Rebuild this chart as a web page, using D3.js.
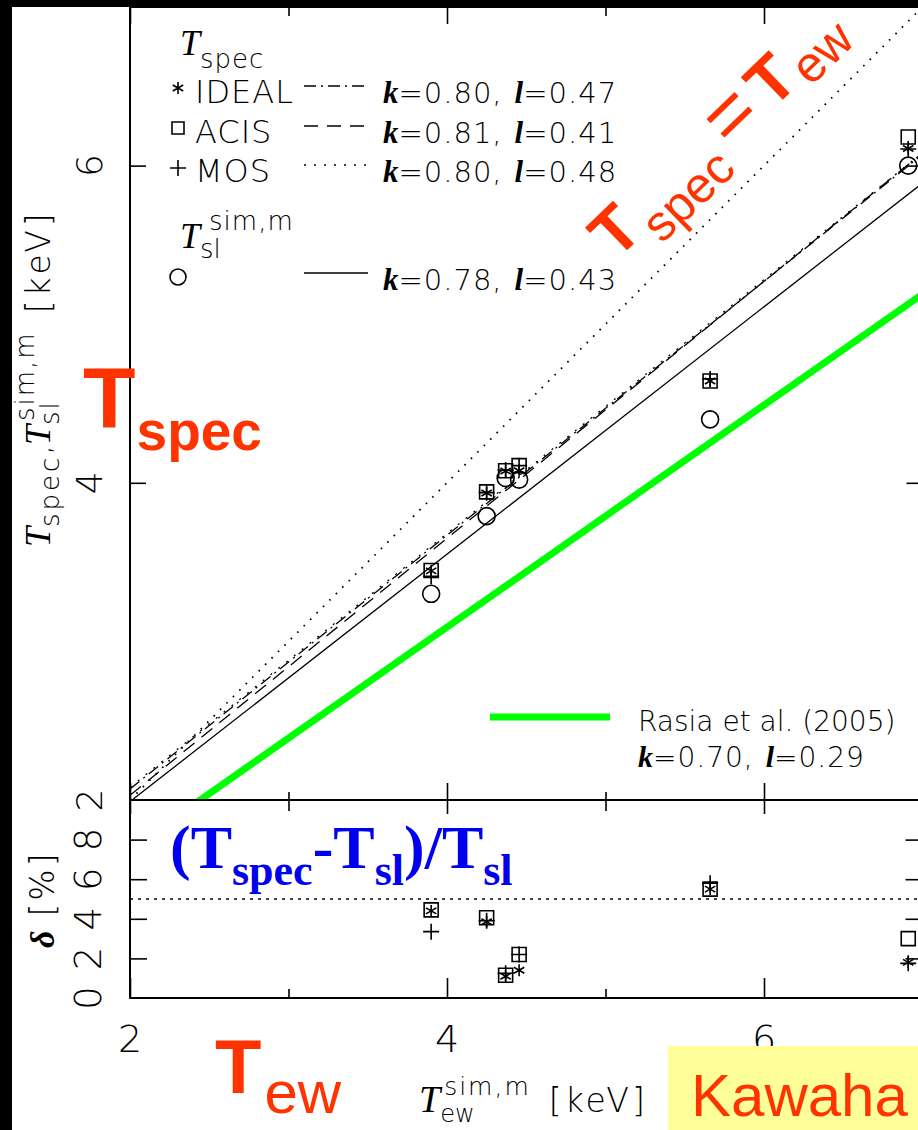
<!DOCTYPE html>
<html><head><meta charset="utf-8">
<script src="https://cdn.jsdelivr.net/npm/d3@7"></script>
<style>html,body{margin:0;padding:0;background:#000;overflow:hidden}svg{display:block}</style>
</head><body><svg id="c" width="918" height="1130"></svg>
<script>
// ---------- data ----------
const tewMajorTicks = [2, 4, 6];
const tewMinorTicks = [3, 5];
const tewTickLabels = [2, 4, 6];
const tTicks = [4, 6];
const tTickLabels = [2, 4, 6];
const deltaTicks = [2, 4, 6, 8];
const deltaTickLabels = [0, 2, 4, 6, 8];

const clusterTew = [3.90, 4.25, 4.37, 4.455, 5.66, 6.91];
const tslSim     = [3.30, 3.79, 4.03, 4.02, 4.40, 6.00];
const tspecIdeal = [3.445, 3.936, 4.074, 4.076, 4.642, 6.108];
const tspecAcis  = [3.447, 3.943, 4.076, 4.108, 4.642, 6.180];
const tspecMos   = [3.410, 3.938, 4.080, 4.108, 4.655, 6.105];
const deltaIdeal = [4.40, 3.85, 1.10, 1.40, 5.50, 1.80];
const deltaAcis  = [4.45, 4.05, 1.15, 2.20, 5.50, 3.00];
const deltaMos   = [3.35, 3.90, 1.25, 2.20, 5.80, 1.75];

const fitNames = ["IDEAL", "ACIS", "MOS", "sl", "Rasia"];
const fitK = [0.80, 0.81, 0.80, 0.78, 0.70];
const fitL = [0.47, 0.41, 0.48, 0.43, 0.29];
const identityLine = [2, 7];
const deltaRef = 5;

// ---------- setup ----------
const svg = d3.select("#c");
const W = 918, H = 1130;
svg.append("rect").attr("width", W).attr("height", H).attr("fill", "#000");
svg.append("rect").attr("x", 12).attr("y", 7).attr("width", W - 12).attr("height", H - 7).attr("fill", "#fff");

const x = d3.scaleLinear().domain([2, 7]).range([130, 922.5]);
const yT = d3.scaleLinear().domain([2, 7]).range([800, 7]);
const yD = d3.scaleLinear().domain([0, 10]).range([998, 800]);

const SANS = "DejaVu Sans";
const SERIF = "Liberation Serif";
const ARIAL = "Liberation Sans";
const RED = "#ff3300";

svg.append("defs").append("clipPath").attr("id", "up")
  .append("rect").attr("x", x(2)).attr("y", yT(7)).attr("width", x(7) - x(2)).attr("height", yT(2) - yT(7));

// ---------- fit lines ----------
const lineGen = d3.line().x(d => x(d[0])).y(d => yT(d[1]));
const lines = svg.append("g").attr("clip-path", "url(#up)");
lines.append("path").attr("d", lineGen(identityLine.map(v => [v, v])))
  .attr("fill", "none").attr("stroke", "#000").attr("stroke-width", 1.8)
  .attr("stroke-dasharray", "1.6,7.5");
const fitDash = ["12,5,2,5", "14,9", "2,8", null];
fitK.forEach((k, i) => {
  const pts = identityLine.map(v => [v, k * v + fitL[i]]);
  const p = lines.append("path").attr("d", lineGen(pts)).attr("fill", "none");
  if (i === 4) {
    p.attr("stroke", "#00ff00").attr("stroke-width", 7);
  } else {
    p.attr("stroke", "#000").attr("stroke-width", 1.3);
    if (fitDash[i]) p.attr("stroke-dasharray", fitDash[i]);
  }
});

// ---------- delta ref line ----------
svg.append("line").attr("x1", x(2)).attr("x2", x(7)).attr("y1", yD(deltaRef)).attr("y2", yD(deltaRef))
  .attr("stroke", "#000").attr("stroke-width", 1.6).attr("stroke-dasharray", "3,5");

// ---------- frames & ticks ----------
function frame(y0, y1) {
  svg.append("rect").attr("x", x(2)).attr("y", y0).attr("width", x(7) - x(2)).attr("height", y1 - y0)
    .attr("fill", "none").attr("stroke", "#000").attr("stroke-width", 2);
}
frame(yT(7), yT(2));
frame(yD(10), yD(0));

function ticks(axis, tx, ty) {
  const g = svg.append("g").attr("transform", `translate(${tx},${ty})`).call(axis);
  g.select(".domain").remove();
  g.selectAll("text").remove();
  g.selectAll("line").attr("stroke", "#000").attr("stroke-width", 1.6);
}
ticks(d3.axisBottom(x).tickValues(tewMajorTicks).tickSize(17), 0, yT(7));
ticks(d3.axisBottom(x).tickValues(tewMinorTicks).tickSize(9), 0, yT(7));
ticks(d3.axisTop(x).tickValues(tewMajorTicks).tickSize(17), 0, yT(2));
ticks(d3.axisTop(x).tickValues(tewMinorTicks).tickSize(8), 0, yT(2));
ticks(d3.axisRight(yT).tickValues(tTicks).tickSize(16), x(2), 0);
ticks(d3.axisLeft(yT).tickValues(tTicks).tickSize(16), x(7), 0);
ticks(d3.axisBottom(x).tickValues(tewMajorTicks).tickSize(14), 0, yD(10));
ticks(d3.axisBottom(x).tickValues(tewMinorTicks).tickSize(11), 0, yD(10));
ticks(d3.axisTop(x).tickValues(tewMajorTicks).tickSize(20), 0, yD(0));
ticks(d3.axisTop(x).tickValues(tewMinorTicks).tickSize(9), 0, yD(0));
ticks(d3.axisRight(yD).tickValues(deltaTicks).tickSize(17), x(2), 0);
ticks(d3.axisLeft(yD).tickValues(deltaTicks).tickSize(17), x(7), 0);

// tick labels
svg.append("g").selectAll("text").data(tewTickLabels).join("text")
  .attr("x", d => x(d)).attr("y", 1052).attr("text-anchor", "middle")
  .attr("font-family", SANS).attr("font-size", 38).attr("font-weight", 200).attr("fill", "#000").text(d => d);
svg.append("g").selectAll("text").data(tTickLabels).join("text")
  .attr("transform", d => `translate(102,${yT(d)}) rotate(-90)`).attr("text-anchor", "middle")
  .attr("font-family", SANS).attr("font-size", 36).attr("font-weight", 200).attr("fill", "#000").text(d => d);
svg.append("g").selectAll("text").data(deltaTickLabels).join("text")
  .attr("transform", d => `translate(101,${yD(d)}) rotate(-90)`).attr("text-anchor", "middle")
  .attr("font-family", SANS).attr("font-size", 37).attr("font-weight", 200).attr("fill", "#000").text(d => d);

// ---------- rich text helper ----------
function rich(g, x0, y0, pieces, base) {
  let cx = x0, stackMax = 0;
  pieces.forEach(p => {
    const s = Object.assign({}, base, p);
    const el = g.append("text")
      .attr("x", cx + (s.dx || 0)).attr("y", y0 + (s.dy || 0))
      .attr("font-family", s.family).attr("font-size", s.size)
      .attr("font-style", s.style || "normal").attr("font-weight", s.weight || "normal")
      .attr("fill", s.fill || "#000")
      .style("letter-spacing", (s.ls || 0) + "px")
      .style("white-space", "pre")
      .text(s.t);
    const w = el.node().getComputedTextLength() + (s.dx || 0);
    if (p.stack) { stackMax = Math.max(stackMax, w); }
    else { cx += Math.max(w, stackMax); stackMax = 0; }
  });
  return cx;
}

// axis titles
const ylab = svg.append("g").attr("transform", "translate(50,547) rotate(-90)");
rich(ylab, 0, 0, [
  { t: "T", family: SERIF, style: "italic", size: 36 },
  { t: "spec", size: 26, dy: 9, ls: 3 },
  { t: ",", size: 30 },
  { t: "T", family: SERIF, style: "italic", size: 36 },
  { t: "sim,m", size: 26, dy: -16, dx: 4, ls: 2, stack: true },
  { t: "sl", size: 26, dy: 9, ls: 2 },
  { t: "[keV]", size: 33, dx: 18, ls: 4 }
], { family: SANS, weight: 200 });

const dlab = svg.append("g").attr("transform", "translate(54,948) rotate(-90)");
rich(dlab, 0, 0, [
  { t: "δ", family: SERIF, style: "italic", weight: "bold", size: 34 },
  { t: "[%]", size: 33, dx: 14, ls: 3 }
], { family: SANS, weight: 200 });

rich(svg.append("g"), 419, 1112, [
  { t: "T", family: SERIF, style: "italic", size: 38 },
  { t: "sim,m", size: 25, dy: -17, dx: 4, ls: 2, stack: true },
  { t: "ew", size: 24, dy: 10 },
  { t: "[keV]", size: 33, dx: 18, ls: 3 }
], { family: SANS, weight: 200 });

// ---------- marker shapes ----------
function sq(cx, cy, s) { return `M${cx - s / 2},${cy - s / 2}h${s}v${s}h${-s}Z`; }
function plus(cx, cy, s) { return `M${cx - s / 2},${cy}H${cx + s / 2}M${cx},${cy - s / 2}V${cy + s / 2}`; }
function star(cx, cy, s) {
  const r = s / 2; let d = "";
  [90, 30, -30].forEach(a => {
    const dx = r * Math.cos(a * Math.PI / 180), dy = r * Math.sin(a * Math.PI / 180);
    d += `M${cx - dx},${cy - dy}L${cx + dx},${cy + dy}`;
  });
  return d;
}
function mark(g, d) { g.append("path").attr("d", d).attr("fill", "none").attr("stroke", "#000").attr("stroke-width", 1.6); }

const mk = svg.append("g");
clusterTew.forEach((t, i) => {
  const px = x(t);
  mk.append("circle").attr("cx", px).attr("cy", yT(tslSim[i])).attr("r", 8.5)
    .attr("fill", "none").attr("stroke", "#000").attr("stroke-width", 1.6);
  mark(mk, sq(px, yT(tspecAcis[i]), 14));
  mark(mk, plus(px, yT(tspecMos[i]), 16));
  mark(mk, star(px, yT(tspecIdeal[i]), 12));
  mark(mk, sq(px, yD(deltaAcis[i]), 14));
  mark(mk, plus(px, yD(deltaMos[i]), 16));
  mark(mk, star(px, yD(deltaIdeal[i]), 12));
});

// ---------- legend ----------
const lg = svg.append("g");
rich(lg, 180, 55, [
  { t: "T", family: SERIF, style: "italic", size: 36 },
  { t: "spec", size: 26, dy: 13, ls: 1 }
], { family: SANS, weight: 200 });
rich(lg, 180, 248, [
  { t: "T", family: SERIF, style: "italic", size: 36 },
  { t: "sim,m", size: 26, dy: -18, dx: 9, ls: 1, stack: true },
  { t: "sl", size: 26, dy: 10 }
], { family: SANS, weight: 200 });

const legRows = [
  { name: "IDEAL", y: 103, sym: "star", dash: "12,5,2,5" },
  { name: "ACIS", y: 143, sym: "sq", dash: "14,9" },
  { name: "MOS", y: 182, sym: "plus", dash: "2,8" },
  { name: "", y: 290, sym: "circle", dash: null }
];
legRows.forEach((r, i) => {
  const cy = r.y - 15;
  if (r.sym === "star") mark(lg, star(178, cy, 12));
  if (r.sym === "sq") mark(lg, sq(178, cy, 12));
  if (r.sym === "plus") mark(lg, plus(178, cy + 1, 16));
  if (r.sym === "circle") lg.append("circle").attr("cx", 178).attr("cy", cy + 2).attr("r", 8)
    .attr("fill", "none").attr("stroke", "#000").attr("stroke-width", 1.6);
  if (r.name) rich(lg, 195, r.y, [{ t: r.name, size: 32, ls: 1 }], { family: SANS, weight: 200 });
  const ln = lg.append("line").attr("x1", 304).attr("x2", 368).attr("y1", cy - 2).attr("y2", cy - 2)
    .attr("stroke", "#000").attr("stroke-width", 1.4);
  if (r.dash) ln.attr("stroke-dasharray", r.dash);
  rich(lg, 383, r.y, [
    { t: "k", family: SERIF, style: "italic", weight: "bold", size: 31 },
    { t: "=" + fitK[i].toFixed(2) + ",", size: 29, ls: 1 },
    { t: "l", family: SERIF, style: "italic", weight: "bold", size: 31, dx: 12 },
    { t: "=" + fitL[i].toFixed(2), size: 29, ls: 1 }
  ], { family: SANS, weight: 200 });
});

// Rasia legend
lg.append("line").attr("x1", 490).attr("x2", 610).attr("y1", 717).attr("y2", 717)
  .attr("stroke", "#00ff00").attr("stroke-width", 7);
rich(lg, 638, 731, [{ t: "Rasia et al. (2005)", size: 28 }], { family: SANS, weight: 200 });
rich(lg, 638, 767, [
  { t: "k", family: SERIF, style: "italic", weight: "bold", size: 30 },
  { t: "=" + fitK[4].toFixed(2) + ",", size: 28, ls: 1 },
  { t: "l", family: SERIF, style: "italic", weight: "bold", size: 30, dx: 12 },
  { t: "=" + fitL[4].toFixed(2), size: 28, ls: 1 }
], { family: SANS, weight: 200 });

// ---------- annotations ----------
const an = svg.append("g");
rich(an, 83, 427, [
  { t: "T", size: 86, weight: "bold" },
  { t: "spec", size: 55, weight: "bold", dy: 23, dx: 1 }
], { family: ARIAL, fill: RED });

rich(an, 215, 1093, [
  { t: "T", size: 76, weight: "bold" },
  { t: "ew", size: 60, dy: 20, dx: 3 }
], { family: ARIAL, fill: RED });

const rot = an.append("g").attr("transform", "translate(616,261) rotate(-44)");
rich(rot, 0, 0, [
  { t: "T", size: 66, weight: "bold" },
  { t: "spec", size: 50, dy: 20, dx: 4 },
  { t: "=", size: 80, dx: 10 },
  { t: "T", size: 66, weight: "bold", dx: 10 },
  { t: "ew", size: 50, dy: 10, dx: 4 }
], { family: ARIAL, fill: RED });

rich(an, 170, 868, [
  { t: "(T", size: 62 },
  { t: "spec", size: 44, dy: 17 },
  { t: "-T", size: 62 },
  { t: "sl", size: 44, dy: 17 },
  { t: ")/T", size: 62 },
  { t: "sl", size: 44, dy: 17 }
], { family: SERIF, weight: "bold", fill: "#0000f0" });

an.append("rect").attr("x", 668).attr("y", 1046).attr("width", 918 - 668).attr("height", 1130 - 1046).attr("fill", "#ffff99");
an.append("text").attr("x", 691).attr("y", 1116).attr("font-family", ARIAL).attr("font-size", 60)
  .attr("fill", RED).text("Kawaha");
</script></body></html>
